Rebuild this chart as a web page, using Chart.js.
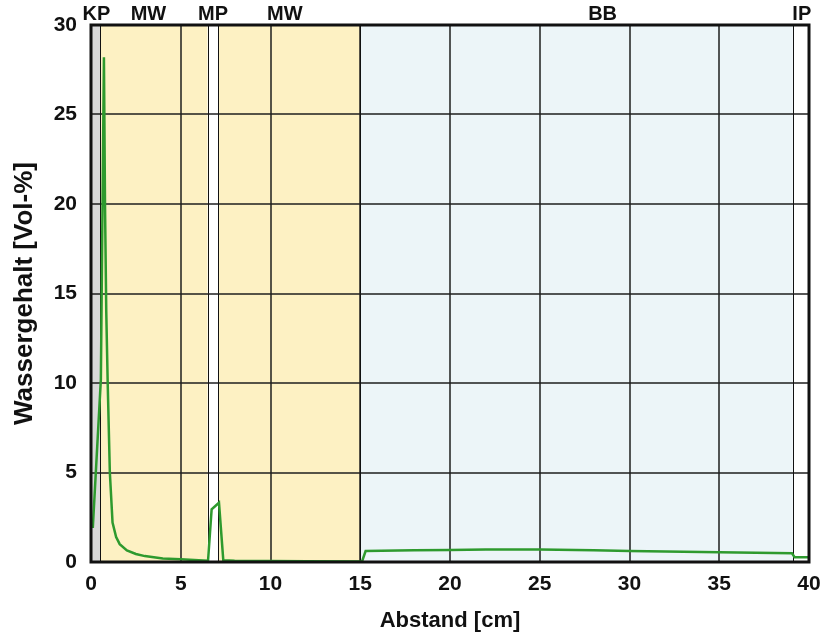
<!DOCTYPE html>
<html>
<head>
<meta charset="utf-8">
<script src="https://cdn.jsdelivr.net/npm/chart.js@4.4.1/dist/chart.umd.min.js"></script>
<style>
  html, body { margin: 0; padding: 0; background: #fff; }
  #wrap { width: 821px; height: 634px; }
</style>
</head>
<body>
<div id="wrap"><canvas id="chart" width="821" height="634"></canvas></div>
<script>
// Messwerte: Abstand [cm] und Wassergehalt [Vol-%]
const distance = [0.1, 0.55, 0.72, 0.78, 0.85, 0.93, 1.05, 1.2, 1.4, 1.6, 2.0, 2.5, 3.0, 4.0, 5.0, 6.0, 6.52, 6.72, 7.13, 7.37, 8, 10, 12, 15.1, 15.3, 18, 20, 22, 25, 28, 30, 35, 39.05, 39.2, 40];
const water    = [1.9, 10.2, 28.2, 20, 14, 10, 5, 2.2, 1.4, 1.0, 0.65, 0.45, 0.33, 0.2, 0.15, 0.1, 0.07, 2.94, 3.31, 0.1, 0.07, 0.05, 0.04, 0.03, 0.61, 0.65, 0.67, 0.7, 0.7, 0.65, 0.61, 0.55, 0.49, 0.27, 0.27];

// Schichten
const layerNames  = ['KP', 'MW', 'MP', 'MW', 'BB', 'IP'];
const layerStart  = [0, 0.5, 6.5, 7.1, 15, 39.1];
const layerEnd    = [0.5, 6.5, 7.1, 15, 39.1, 40];
const layerLabelX = [0.3, 3.2, 6.8, 10.8, 28.5, 39.6];
const layerColors = ['#d9d9d9', '#fdf1c3', '#ffffff', '#fdf1c3', '#ecf5f8', '#ffffff'];

const xTicks = [0, 5, 10, 15, 20, 25, 30, 35, 40];
const yTicks = [0, 5, 10, 15, 20, 25, 30];

const FONT = '"Liberation Sans", Arial, sans-serif';

const layersPlugin = {
  id: 'layers',
  beforeDraw(chart) {
    const { ctx, chartArea: a, scales: { x } } = chart;
    ctx.save();
    layerStart.forEach((s, i) => {
      const x0 = x.getPixelForValue(s);
      const x1 = x.getPixelForValue(layerEnd[i]);
      ctx.fillStyle = layerColors[i];
      ctx.fillRect(x0, a.top, x1 - x0, a.bottom - a.top);
    });
    ctx.restore();
  },
  beforeDatasetsDraw(chart) {
    const { ctx, chartArea: a, scales: { x } } = chart;
    ctx.save();
    ctx.strokeStyle = '#111';
    ctx.lineWidth = 1;
    layerStart.slice(1).forEach(s => {
      const px = Math.round(x.getPixelForValue(s)) + 0.5;
      ctx.beginPath();
      ctx.moveTo(px, a.top);
      ctx.lineTo(px, a.bottom);
      ctx.stroke();
    });
    ctx.restore();
  },
  afterDraw(chart) {
    const { ctx, chartArea: a, scales: { x } } = chart;
    ctx.save();
    // Rahmen
    ctx.strokeStyle = '#111';
    ctx.lineWidth = 3;
    ctx.strokeRect(a.left, a.top, a.right - a.left, a.bottom - a.top);
    // Schichtbezeichnungen
    ctx.fillStyle = '#111';
    ctx.font = 'bold 20px ' + FONT;
    ctx.textAlign = 'center';
    ctx.textBaseline = 'middle';
    layerNames.forEach((n, i) => {
      ctx.fillText(n, x.getPixelForValue(layerLabelX[i]), 14);
    });
    ctx.restore();
  }
};

new Chart(document.getElementById('chart'), {
  type: 'line',
  data: {
    datasets: [{
      data: distance.map((d, i) => ({ x: d, y: water[i] })),
      borderColor: '#2e9a2e',
      borderWidth: 2.5,
      pointRadius: 0,
      tension: 0,
      fill: false,
    }],
  },
  options: {
    responsive: false,
    animation: false,
    layout: { padding: { top: 25, right: 0, left: 0, bottom: 0 } },
    plugins: { legend: { display: false }, tooltip: { enabled: false } },
    scales: {
      x: {
        type: 'linear',
        min: 0,
        max: 40,
        afterBuildTicks: (s) => { s.ticks = xTicks.map(v => ({ value: v })); },
        afterFit: (s) => { s.height = 72; s.paddingRight = 12; s.paddingLeft = 0; },
        grid: { color: 'rgba(30,30,30,0.75)', lineWidth: 2, drawTicks: false },
        border: { display: false },
        ticks: { color: '#111', font: { family: FONT, size: 21, weight: 'bold' }, padding: 10, maxRotation: 0 },
        title: { display: true, text: 'Abstand [cm]', color: '#111', font: { family: FONT, size: 22, weight: 'bold' }, padding: { top: 2, bottom: 0 } },
      },
      y: {
        min: 0,
        max: 30,
        afterBuildTicks: (s) => { s.ticks = yTicks.map(v => ({ value: v })); },
        afterFit: (s) => { s.width = 91; s.paddingTop = 0; s.paddingBottom = 0; },
        grid: { color: 'rgba(30,30,30,0.75)', lineWidth: 2, drawTicks: false },
        border: { display: false },
        ticks: { color: '#111', font: { family: FONT, size: 21, weight: 'bold' }, padding: 14 },
        title: { display: true, text: 'Wassergehalt [Vol-%]', color: '#111', font: { family: FONT, size: 26, weight: 'bold' }, padding: { top: 9, bottom: 8 } },
      },
    },
  },
  plugins: [layersPlugin],
});
</script>
</body>
</html>
